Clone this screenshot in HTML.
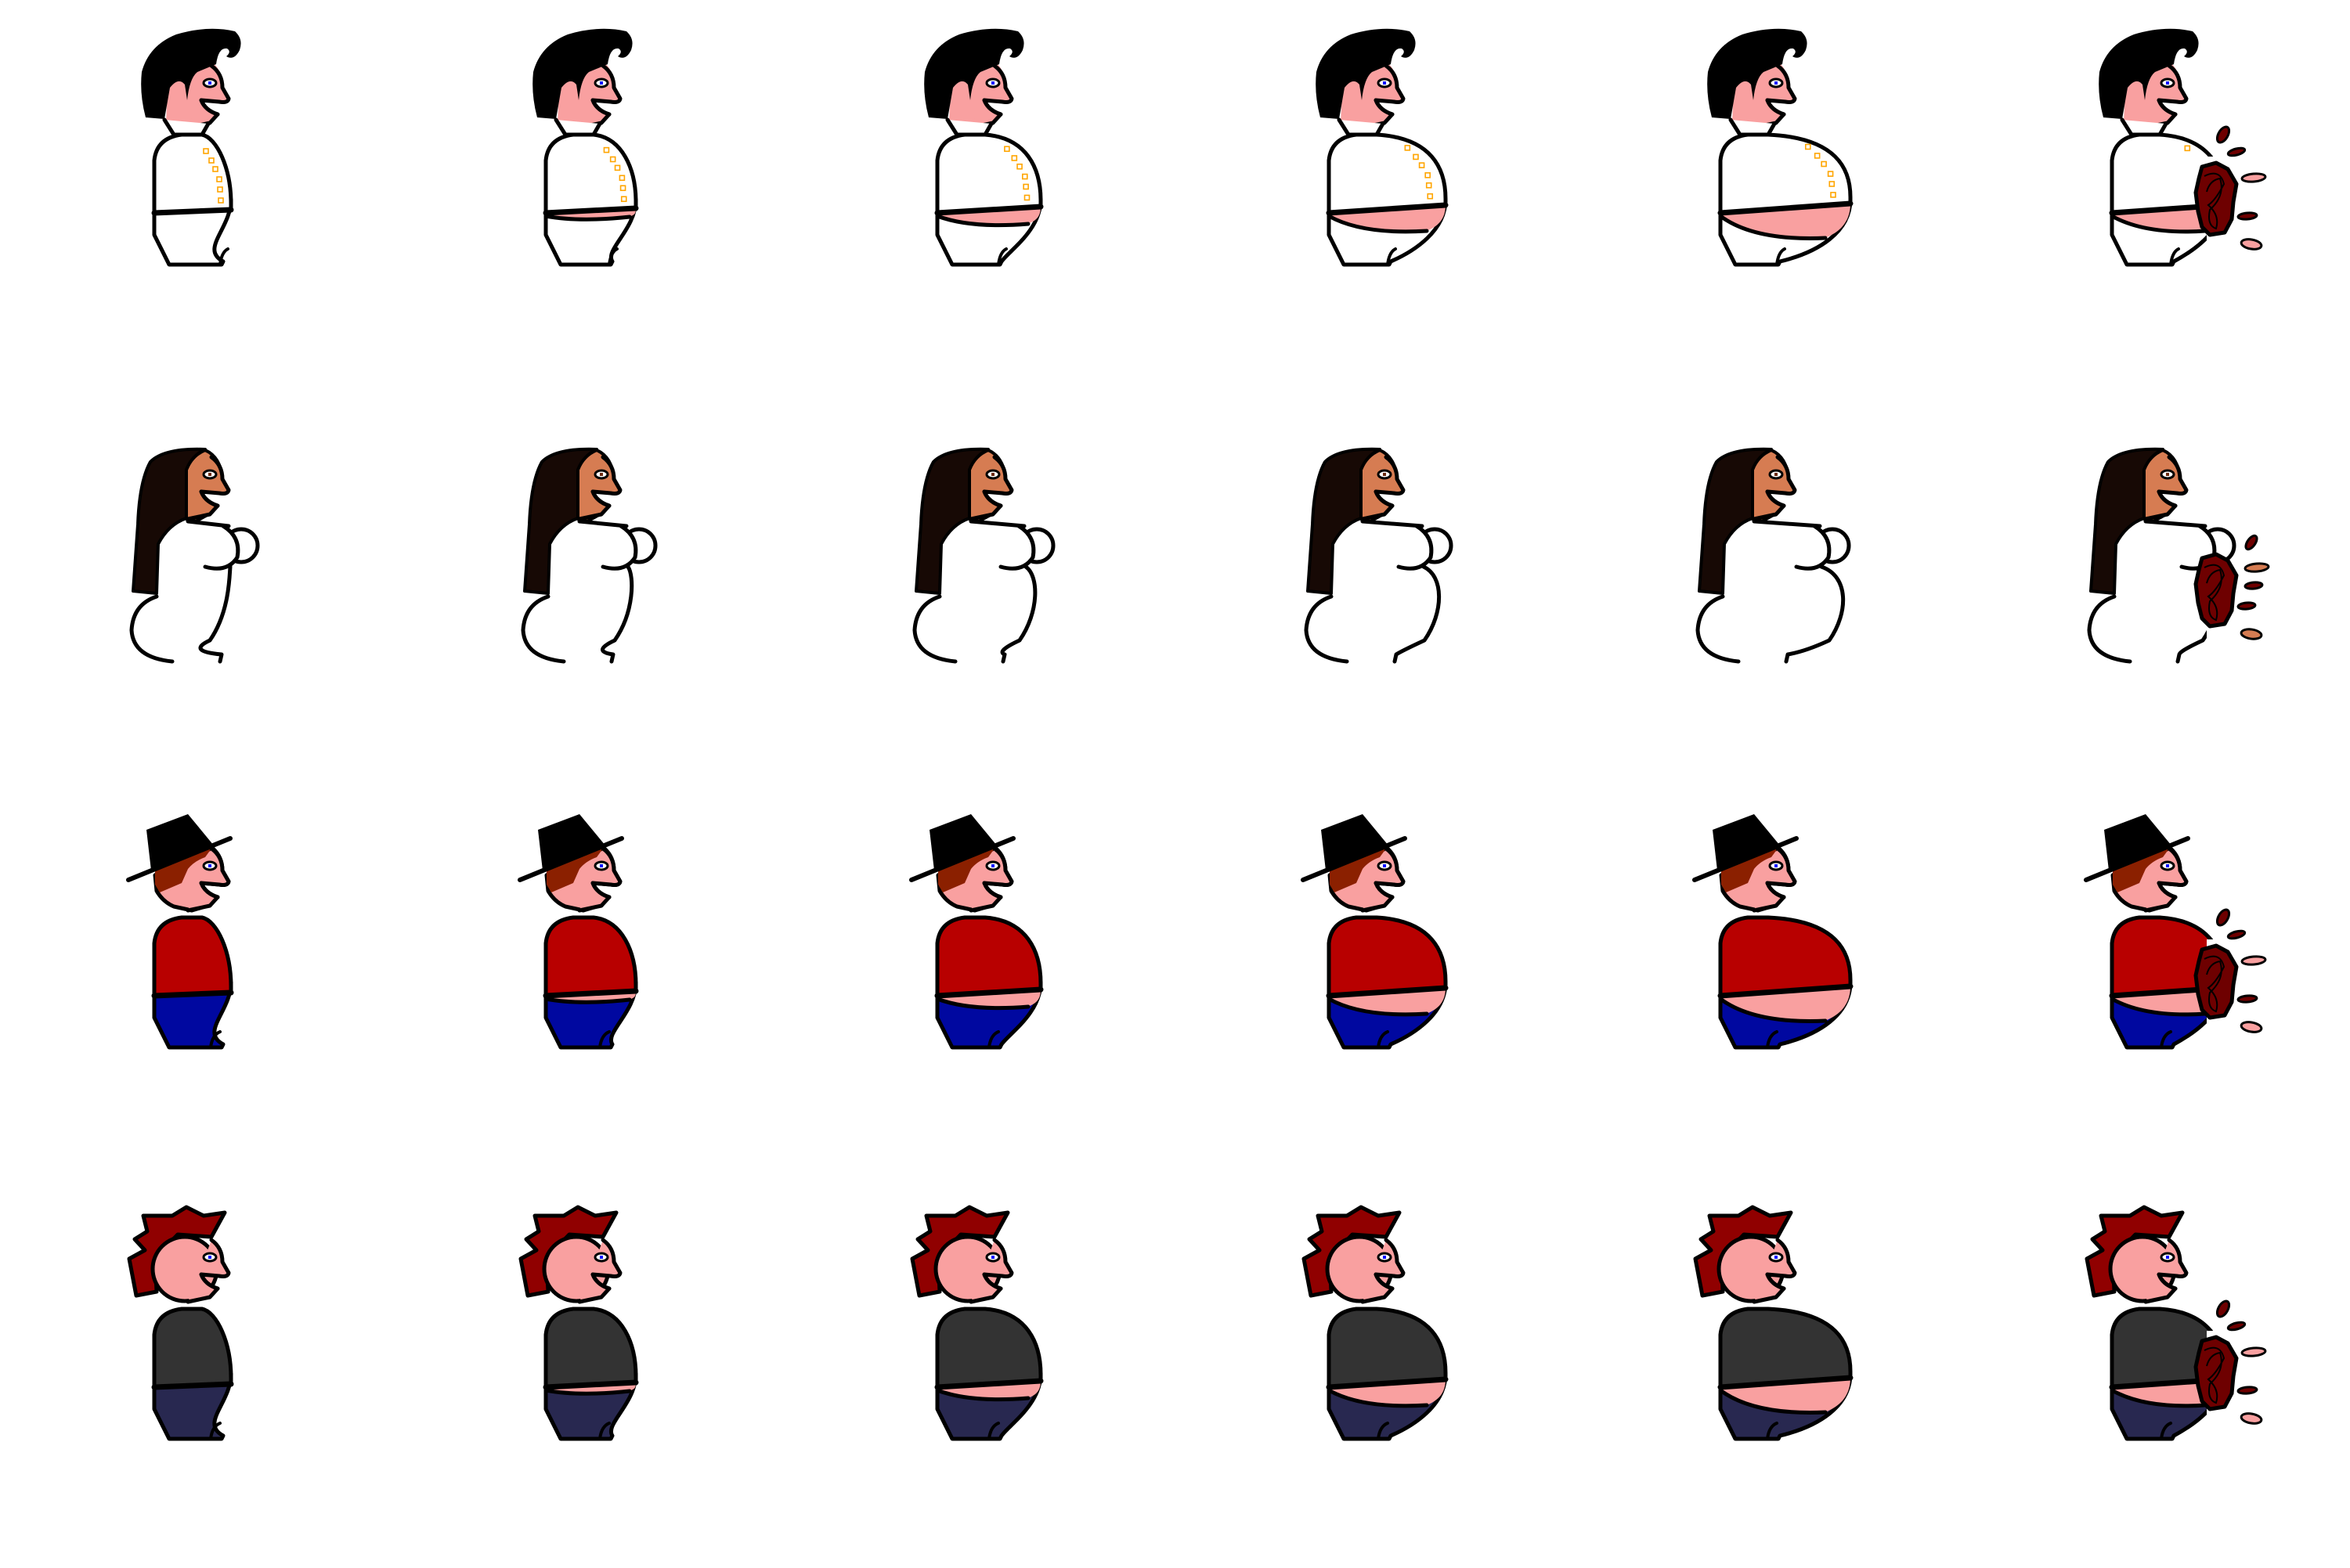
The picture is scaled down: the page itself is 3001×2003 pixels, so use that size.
<!DOCTYPE html>
<html><head><meta charset="utf-8"><style>
html,body{margin:0;padding:0;background:#fff;}
svg{display:block;}
</style></head>
<body>
<svg id="sheet" width="3001" height="2003" viewBox="0 0 3001 2003" xmlns="http://www.w3.org/2000/svg">
<rect width="3001" height="2003" fill="#fff"/>
</svg>
<script>
// Belly growth per frame (px beyond base), frame 5 = burst
const frames = [0, 1, 2, 3, 4, 5];
const bellyGrowth = [0, 17, 34, 51, 68, 45];
const rowNames = ['elvis', 'woman', 'hat-man', 'punk'];
const shirtColors = ['#ffffff', '#ffffff', '#b80000', '#333333'];
const pantsColors = ['#ffffff', '#ffffff', '#0008a0', '#282850'];
const skinColors = ['#f9a0a0', '#d67c52', '#f9a0a0', '#f9a0a0'];

const NS = 'http://www.w3.org/2000/svg';
const sheet = document.getElementById('sheet');
const S = 'stroke="#000" stroke-linejoin="round" stroke-linecap="round"';

function face(skin, pupil) {
  return `<path d="M270,84 Q284,94 284,112 L292,126 Q291,132 280,130 L257,128 Q262,141 278,146 L268,157 L240,163" fill="${skin}" ${S} stroke-width="5"/>
  <path d="M257,128 Q262,141 278,146" fill="none" ${S} stroke-width="5"/>
  <path d="M257,128 L280,130" fill="none" ${S} stroke-width="4"/>
  <ellipse cx="268" cy="106" rx="8" ry="5" fill="#fff" ${S} stroke-width="3"/>
  <rect x="266" y="104" width="4" height="4" fill="${pupil}"/>`;
}

function head(r) {
  if (r === 0) {
    return `<path d="M212,156 L214,112 Q226,94 242,88 L272,80 Q285,92 284,112 L292,126 Q291,132 280,130 L257,128 Q262,141 278,146 L268,156 L245,160 Z" fill="#f9a0a0"/>
    ${face('#f9a0a0', '#0010ff')}
    <path d="M186,150 Q178,120 181,92 Q190,58 225,44 Q265,32 300,40 Q311,50 306,64 Q299,78 289,72 Q296,66 290,62 Q279,60 276,82 L252,92 Q242,100 239,128 L236,108 Q228,98 217,112 L210,152 Z" fill="#000"/>
    <path d="M210,153 L222,172 L258,172 L266,158" fill="#fff" ${S} stroke-width="5"/>`;
  }
  if (r === 1) {
    return `<path d="M238,163 L238,100 Q245,82 262,75 Q282,84 284,112 L292,126 Q291,132 280,130 L257,128 Q262,141 278,146 L270,155 L250,166 Z" fill="#d67c52" ${S} stroke-width="4"/>
    ${face('#d67c52', '#6a2a10')}
    <path d="M200,258 L170,255 L176,170 Q178,115 192,90 Q210,72 262,74 Q245,82 238,100 L238,162 Q215,170 202,195 Z" fill="#170905" ${S} stroke-width="4"/>`;
  }
  if (r === 2) {
    return `<path d="M198,118 L200,138 Q208,152 222,158 L245,163 L262,158 Q272,151 278,146 Q262,141 257,128 L280,130 Q291,132 292,126 L284,112 Q284,95 272,84 L240,90 Z" fill="#f9a0a0" ${S} stroke-width="5"/>
    <path d="M198,112 L270,84 L262,95 Q248,100 240,110 L232,128 L204,140 L198,130 Z" fill="#8b2000"/>
    ${face('#f9a0a0', '#0010ff')}
    <polygon points="187,60 240,40 273,80 193,112" fill="#000"/>
    <line x1="164" y1="124" x2="294" y2="71" stroke="#000" stroke-width="6" stroke-linecap="round"/>`;
  }
  return `<polygon points="183,53 220,53 238,42 260,53 287,49 270,80 227,77 198,107 200,150 174,155 165,108 185,97 172,83 188,73" fill="#900000" ${S} stroke-width="5"/>
    <circle cx="236" cy="121" r="41" fill="#f9a0a0" ${S} stroke-width="5"/>
    ${face('#f9a0a0', '#0010ff')}`;
}

function manBody(r, R, k, burst) {
  const shirt = shirtColors[r], pants = pantsColors[r], skin = skinColors[r];
  const hr = 268 - k * 2;
  const Xb = 283 - 3 * k;
  const ex = R - 8 * k, ey = hr + 11 * k;
  let s = '';
  s += `<path d="M197,262 L197,300 L216,338 L${Xb},338 L${Xb + 2},334 C${R - 40},${318 + k} ${R},${292 + k} ${R},255 Z" fill="${pants}" ${S} stroke-width="5"/>`;
  if (r === 0) s += `<path d="M${Xb - 2},338 Q${Xb},322 ${Xb + 8},318" fill="none" ${S} stroke-width="4"/>`;
  else s += `<path d="M${Xb - 14},338 Q${Xb - 12},322 ${Xb - 2},318" fill="none" ${S} stroke-width="4"/>`;
  if (k > 0) {
    s += `<path d="M197,272 L${R},${hr} C${R},${hr + 8 * k} ${ex + 6},${ey - 3} ${ex},${ey} Q240,${276 + 8 * k} 197,276 Z" fill="${skin}"/>`;
    s += `<path d="M197,276 Q240,${276 + 8 * k} ${ex},${ey}" fill="none" ${S} stroke-width="5"/>`;
  }
  s += `<path d="M197,272 L197,205 Q200,176 232,172 L258,172 C${R - 18},176 ${R},215 ${R},${hr - 8} L${R},${hr} Z" fill="${shirt}" ${S} stroke-width="5"/>`;
  s += `<path d="M197,272 L${R},${hr}" ${S} stroke-width="7"/>`;
  if (r === 0) {
    const bx = [263, 270, 275, 280, 281, 282], by = [193, 205, 216, 229, 242, 256];
    for (let i = 0; i < bx.length; i++) {
      const x = 197 + (bx[i] - 197) * (R - 197) / 98;
      const y = by[i] - (x - bx[i]) * 0.12;
      if (y < hr - 6 && (!burst || x < 300)) s += `<rect x="${x - 3}" y="${y - 3}" width="6" height="6" fill="none" stroke="#ffa500" stroke-width="1.6"/>`;
    }
  }
  return s;
}

function womanBody(R, k) {
  const bs = k * 8;
  let s = '';
  s += `<path d="M222,168 L${290 + bs},172 L${296 + bs},228 C${R},238 ${R},280 ${R - 25},318 Q${R - 60},332 282,336 L282,345 L220,345 Q172,340 168,308 Q170,272 200,262 L200,200 Z" fill="#fff"/>`;
  s += `<path d="M${294 + bs},224 C${R},236 ${R},282 ${R - 25},318 Q${R - 55},332 283,336 L281,345" fill="none" ${S} stroke-width="5"/>`;
  s += `<path d="M200,262 Q170,272 168,305 Q170,340 220,345" fill="none" ${S} stroke-width="5"/>`;
  s += `<path d="M240,166 L${292 + bs},172" fill="none" ${S} stroke-width="5"/>`;
  s += `<circle cx="${308 + bs}" cy="197" r="21" fill="#fff" ${S} stroke-width="5"/>`;
  s += `<path d="M${262 + bs},224 Q${290 + bs},232 ${303 + bs},212 Q${308 + bs},186 ${285 + bs},172" fill="#fff" ${S} stroke-width="5"/>`;
  return s;
}

function gore(r) {
  const skin = skinColors[r];
  let s = `<path d="M312,213 L330,208 L345,216 L356,235 L352,258 L350,280 L341,297 L322,300 L312,290 L307,270 L304,246 L308,228 Z" fill="#6e0000" ${S} stroke-width="5"/>
  <path d="M315,225 Q335,215 340,235 Q330,255 320,262 Q335,275 330,292 Q318,288 322,268 Q342,250 335,228 Q322,230 318,245" fill="none" stroke="#000" stroke-width="2"/>`;
  if (r === 1) {
    s += `<ellipse cx="375" cy="193" rx="10" ry="5" transform="rotate(-55 375 193)" fill="#6e0000" ${S} stroke-width="3"/>
  <ellipse cx="382" cy="225" rx="15" ry="5" transform="rotate(-5 382 225)" fill="${skin}" ${S} stroke-width="3"/>
  <ellipse cx="378" cy="248" rx="11" ry="4" transform="rotate(-5 378 248)" fill="#6e0000" ${S} stroke-width="3"/>
  <ellipse cx="369" cy="274" rx="11" ry="4" transform="rotate(-5 369 274)" fill="#6e0000" ${S} stroke-width="3"/>
  <ellipse cx="375" cy="310" rx="13" ry="6" transform="rotate(8 375 310)" fill="${skin}" ${S} stroke-width="3"/>`;
  } else {
    s += `<ellipse cx="339" cy="172" rx="11" ry="6" transform="rotate(-60 339 172)" fill="#6e0000" ${S} stroke-width="3"/>
  <ellipse cx="356" cy="194" rx="11" ry="4" transform="rotate(-15 356 194)" fill="#6e0000" ${S} stroke-width="3"/>
  <ellipse cx="378" cy="227" rx="15" ry="5" transform="rotate(-5 378 227)" fill="${skin}" ${S} stroke-width="3"/>
  <ellipse cx="370" cy="276" rx="12" ry="4" transform="rotate(-5 370 276)" fill="#6e0000" ${S} stroke-width="3"/>
  <ellipse cx="375" cy="312" rx="13" ry="6" transform="rotate(10 375 312)" fill="${skin}" ${S} stroke-width="3"/>`;
  }
  return s;
}

for (let r = 0; r < rowNames.length; r++) {
  for (let c = 0; c < frames.length; c++) {
    const k = frames[c];
    const burst = k === 5;
    const g = document.createElementNS(NS, 'g');
    
    
    g.setAttribute('transform', `translate(${c * 500},${r * 500})`);
    const base = r === 1 ? 293 : 295;
    const R = base + bellyGrowth[c];
    const kk = burst ? 3 : k;
    let body = r === 1 ? womanBody(R, kk) : manBody(r, R, kk, burst);
    if (burst) {
      const topH = r === 1 ? 226 : 200;
      body = `<clipPath id="cp${r}"><rect x="0" y="0" width="318" height="500"/><rect x="318" y="0" width="182" height="${topH}"/></clipPath><g clip-path="url(#cp${r})">${body}</g>` + gore(r);
    }
    g.innerHTML = body + head(r);
    sheet.appendChild(g);
  }
}
</script>
</body></html>
